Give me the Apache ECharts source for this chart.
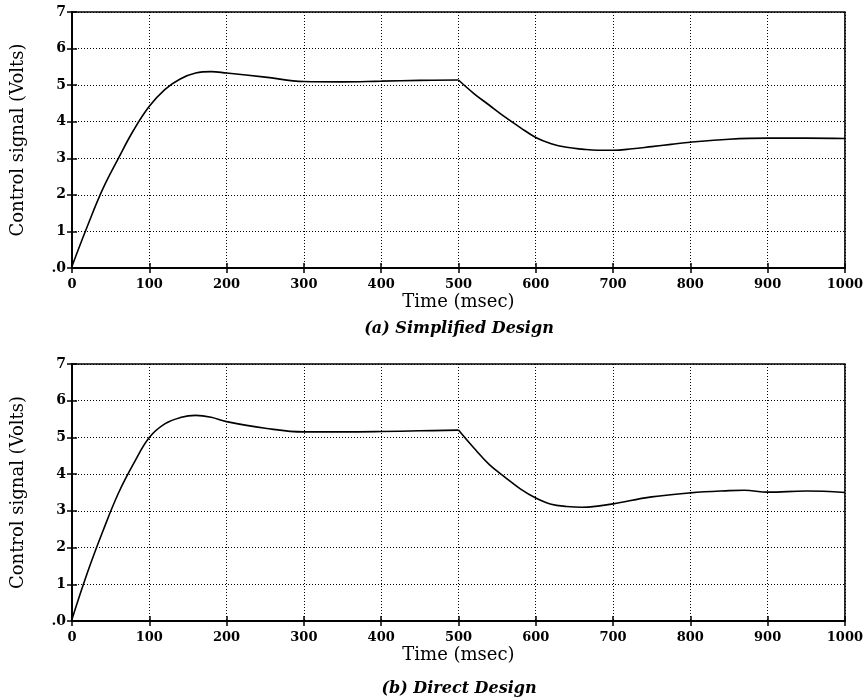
<!DOCTYPE html>
<html>
<head>
<meta charset="utf-8">
<script src="https://cdn.jsdelivr.net/npm/echarts@6/dist/echarts.min.js"></script>
<style>
html,body{margin:0;padding:0;background:#fff;}
#c{width:866px;height:700px;}
</style>
</head>
<body>
<div id="c"></div>
<script>
// Time (msec) and control signal (Volts)
const tA = [0, 20, 40, 60, 80, 100, 120, 140, 160, 180, 200, 250, 300, 350, 400, 450, 500, 520, 540, 560, 580, 600, 620, 640, 660, 680, 700, 725, 750, 775, 800, 850, 900, 950, 1000];
const vA = [0.05, 1.15, 2.17, 3.0, 3.78, 4.42, 4.88, 5.17, 5.33, 5.37, 5.33, 5.22, 5.1, 5.09, 5.11, 5.13, 5.14, 4.77, 4.45, 4.13, 3.84, 3.57, 3.40, 3.30, 3.25, 3.22, 3.22, 3.26, 3.32, 3.38, 3.44, 3.52, 3.55, 3.55, 3.54];
const tB = [0, 20, 40, 60, 80, 100, 120, 140, 160, 180, 200, 250, 300, 350, 400, 450, 500, 520, 540, 560, 580, 600, 620, 640, 660, 680, 700, 750, 800, 850, 870, 900, 950, 1000];
const vB = [0.05, 1.32, 2.45, 3.48, 4.3, 5.0, 5.37, 5.54, 5.6, 5.55, 5.43, 5.25, 5.15, 5.15, 5.16, 5.18, 5.2, 4.71, 4.26, 3.92, 3.6, 3.35, 3.18, 3.12, 3.1, 3.13, 3.19, 3.38, 3.49, 3.55, 3.56, 3.51, 3.54, 3.5];
const stepTime = 500; // set-point change, where the curve has a sharp corner
const xTicks = [0, 100, 200, 300, 400, 500, 600, 700, 800, 900, 1000];
const yTicks = [0, 1, 2, 3, 4, 5, 6, 7];
const yTickLabels = ['.0', '1', '2', '3', '4', '5', '6', '7'];
const xTitle = 'Time (msec)';
const yTitle = 'Control signal (Volts)';
const captions = ['(a) Simplified Design', '(b) Direct Design'];

const chart = echarts.init(document.getElementById('c'), null, {renderer: 'canvas'});
const FONT = 'DejaVu Serif';
const grids = [
  {left: 72, top: 12, width: 773, height: 256},
  {left: 72, top: 364, width: 774, height: 257}
];
const xAxes = [], yAxes = [], series = [];
grids.forEach((g, i) => {
  g.show = true; g.borderColor = '#000'; g.borderWidth = 1.5; g.backgroundColor = 'transparent';
  xAxes.push({
    type: 'value', gridIndex: i, min: xTicks[0], max: xTicks[xTicks.length - 1], interval: 100,
    position: 'bottom',
    name: xTitle, nameLocation: 'middle', nameGap: 25,
    nameTextStyle: {fontFamily: FONT, fontSize: 18, color: '#000'},
    axisLine: {show: true, lineStyle: {color: '#000', width: 1.5}},
    axisTick: {show: true, inside: true, length: 5, lineStyle: {color: '#000', width: 1.5}},
    axisLabel: {fontFamily: FONT, fontSize: 13, fontWeight: 'bold', color: '#000', margin: 10,
      formatter: v => String(v)},
    splitLine: {show: true, lineStyle: {color: '#000', type: [1, 2], width: 1}}
  });
  xAxes.push({
    type: 'value', gridIndex: i, min: xTicks[0], max: xTicks[xTicks.length - 1], interval: 100,
    position: 'top',
    axisLine: {show: true, lineStyle: {color: '#000', width: 1.5}},
    axisTick: {show: true, inside: true, length: 5, lineStyle: {color: '#000', width: 1.5}},
    axisLabel: {show: false}, splitLine: {show: false}
  });
  yAxes.push({
    type: 'value', gridIndex: i, min: yTicks[0], max: yTicks[yTicks.length - 1], interval: 1,
    position: 'left',
    name: yTitle, nameLocation: 'middle', nameGap: 45, nameRotate: 90,
    nameTextStyle: {fontFamily: FONT, fontSize: 18, color: '#000'},
    axisLine: {show: true, lineStyle: {color: '#000', width: 1.5}},
    axisTick: {show: true, inside: true, length: 5, lineStyle: {color: '#000', width: 1.5}},
    axisLabel: {fontFamily: FONT, fontSize: 14, fontWeight: 'bold', color: '#000', margin: 6,
      formatter: v => { const k = yTicks.indexOf(v); return k >= 0 ? yTickLabels[k] : String(v); }},
    splitLine: {show: true, lineStyle: {color: '#000', type: [1, 2], width: 1}}
  });
  yAxes.push({
    type: 'value', gridIndex: i, min: yTicks[0], max: yTicks[yTicks.length - 1], interval: 1,
    position: 'right',
    axisLine: {show: true, lineStyle: {color: '#000', width: 1.5}},
    axisTick: {show: true, inside: true, length: 5, lineStyle: {color: '#000', width: 1.5}},
    axisLabel: {show: false}, splitLine: {show: false}
  });
});
const tSets = [tA, tB], vSets = [vA, vB];
[0, 1].forEach(i => {
  const pts = tSets[i].map((t, k) => [t, vSets[i][k]]);
  const cut = tSets[i].indexOf(stepTime);
  [pts.slice(0, cut + 1), pts.slice(cut)].forEach(seg => {
    series.push({
      type: 'line', xAxisIndex: i * 2, yAxisIndex: i * 2,
      data: seg,
      smooth: 0.4, showSymbol: false, symbol: 'none',
      lineStyle: {color: '#000', width: 1.6}, z: 5
    });
  });
});
chart.setOption({
  animation: false,
  backgroundColor: '#fff',
  title: [
    {text: captions[0], left: 454, top: 316, textAlign: 'center',
     textStyle: {fontFamily: FONT, fontSize: 16, fontStyle: 'italic', fontWeight: 'bold', color: '#000'}},
    {text: captions[1], left: 454, top: 676, textAlign: 'center',
     textStyle: {fontFamily: FONT, fontSize: 16, fontStyle: 'italic', fontWeight: 'bold', color: '#000'}}
  ],
  grid: grids,
  xAxis: xAxes,
  yAxis: yAxes,
  series: series
});
</script>
</body>
</html>
